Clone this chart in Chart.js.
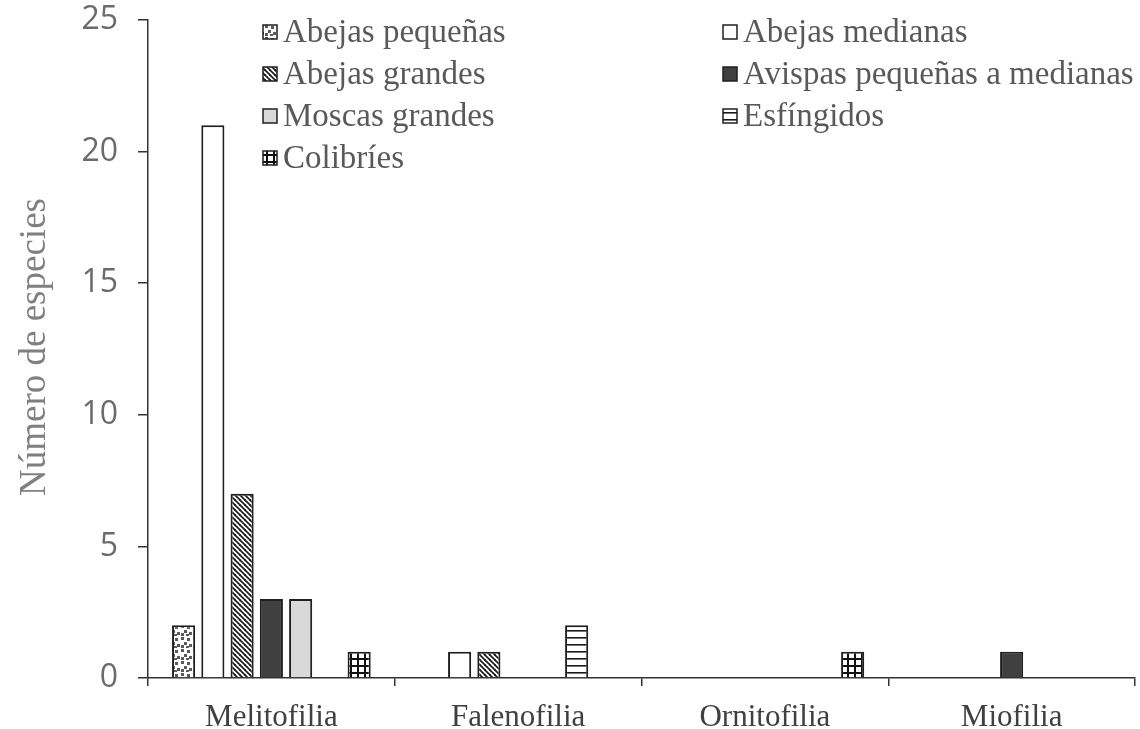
<!DOCTYPE html>
<html><head><meta charset="utf-8">
<script src="https://cdn.jsdelivr.net/npm/chart.js@4.4.1/dist/chart.umd.min.js"></script>
<style>html,body{margin:0;padding:0;background:#fff;}#wrap{width:1140px;height:729px;}</style>
</head><body><div id="wrap"><canvas id="c" width="1140" height="729"></canvas></div>
<script>
const categories = ['Melitofilia', 'Falenofilia', 'Ornitofilia', 'Miofilia'];
const seriesNames = ['Abejas pequeñas', 'Abejas medianas', 'Abejas grandes', 'Avispas pequeñas a medianas', 'Moscas grandes', 'Esfíngidos', 'Colibríes'];
const abejasPequenas = [2, 0, 0, 0];
const abejasMedianas = [21, 1, 0, 0];
const abejasGrandes = [7, 1, 0, 0];
const avispas = [3, 0, 0, 1];
const moscasGrandes = [3, 0, 0, 0];
const esfingidos = [0, 2, 0, 0];
const colibries = [1, 0, 1, 0];
const yTicks = [0, 5, 10, 15, 20, 25];
const yTitle = 'Número de especies';

function tile(w, h, draw) {
  const c = document.createElement('canvas');
  c.width = w; c.height = h;
  const g = c.getContext('2d');
  g.fillStyle = '#ffffff'; g.fillRect(0, 0, w, h);
  draw(g);
  return document.getElementById('c').getContext('2d').createPattern(c, 'repeat');
}
const patConfetti = tile(12, 12, g => {
  g.fillStyle = '#5a5a5a';
  [[1,1],[7,2],[4,6],[9,8],[1,9],[6,10]].forEach(([x,y]) => g.fillRect(x, y, 3, 3));
});
const patDiag = tile(5, 5, g => {
  g.strokeStyle = '#1a1a1a'; g.lineWidth = 1.6;
  [[-5,0],[0,0],[5,0],[0,-5],[0,5]].forEach(([dx,dy]) => { g.beginPath(); g.moveTo(dx-1, dy-1); g.lineTo(dx+6, dy+6); g.stroke(); });
});
const patHLines = tile(7, 7, g => { g.fillStyle = '#1a1a1a'; g.fillRect(0, 0, 7, 1.6); });
const patGrid = tile(7, 7, g => { g.fillStyle = '#111'; g.fillRect(0, 0, 7, 2); g.fillRect(0, 0, 2, 7); });

const seriesValues = [abejasPequenas, abejasMedianas, abejasGrandes, avispas, moscasGrandes, esfingidos, colibries];
const seriesFills = [patConfetti, '#ffffff', patDiag, '#404040', '#d9d9d9', patHLines, patGrid];

const datasets = seriesNames.map((name, i) => ({
  label: name,
  data: seriesValues[i],
  backgroundColor: seriesFills[i],
  borderColor: '#1f1f1f',
  borderWidth: 2,
  barPercentage: 0.79,
  categoryPercentage: 0.83
}));

const legendPlugin = {
  id: 'customLegend',
  afterDraw(chart) {
    const ctx = chart.ctx;
    const cols = [263, 723], rows = [32, 74, 116, 158];
    ctx.save();
    ctx.font = '33px "Liberation Serif"';
    ctx.textBaseline = 'middle';
    ctx.textAlign = 'left';
    chart.data.datasets.forEach((ds, i) => {
      const x = cols[i % 2], y = rows[Math.floor(i / 2)];
      ctx.fillStyle = ds.backgroundColor;
      ctx.fillRect(x, y - 7, 14, 14);
      ctx.strokeStyle = '#1f1f1f'; ctx.lineWidth = 1.5;
      ctx.strokeRect(x, y - 7, 14, 14);
      ctx.fillStyle = '#595959';
      ctx.fillText(ds.label, x + 20, y + 1);
    });
    ctx.restore();
  }
};
const titlePlugin = {
  id: 'yTitle',
  afterDraw(chart) {
    const ctx = chart.ctx;
    ctx.save();
    ctx.translate(35, 347);
    ctx.rotate(-Math.PI / 2);
    ctx.font = '37px "Liberation Serif"';
    ctx.fillStyle = '#808080';
    ctx.textAlign = 'center';
    ctx.textBaseline = 'middle';
    ctx.fillText(yTitle, 0, 0);
    ctx.restore();
  }
};

new Chart(document.getElementById('c'), {
  type: 'bar',
  data: { labels: categories, datasets },
  plugins: [legendPlugin, titlePlugin],
  options: {
    responsive: false,
    animation: false,
    devicePixelRatio: 1,
    layout: { padding: { top: 20, right: 5, left: 0, bottom: 0 } },
    plugins: { legend: { display: false }, tooltip: { enabled: false } },
    scales: {
      x: {
        offset: true,
        grid: { display: true, offset: true, drawOnChartArea: false, drawTicks: true, tickLength: 8, color: '#333', lineWidth: 1.5 },
        border: { display: true, color: '#333', width: 1.5 },
        ticks: { color: '#404040', font: { family: 'Liberation Serif', size: 31 }, padding: 13, maxRotation: 0 },
        afterFit: s => { s.height = 51; s.paddingLeft = 0; s.paddingRight = 0; }
      },
      y: {
        min: 0, max: 25,
        afterBuildTicks: s => { s.ticks = yTicks.map(v => ({ value: v })); },
        grid: { display: true, drawOnChartArea: false, drawTicks: true, tickLength: 10, color: '#333', lineWidth: 1.5 },
        border: { display: true, color: '#333', width: 1.5 },
        ticks: { color: '#6b6b6b', font: { family: 'Open Sans', size: 32 }, padding: 20 },
        afterFit: s => { s.width = 148; s.paddingTop = 0; s.paddingBottom = 0; }
      }
    }
  }
});
</script></body></html>
